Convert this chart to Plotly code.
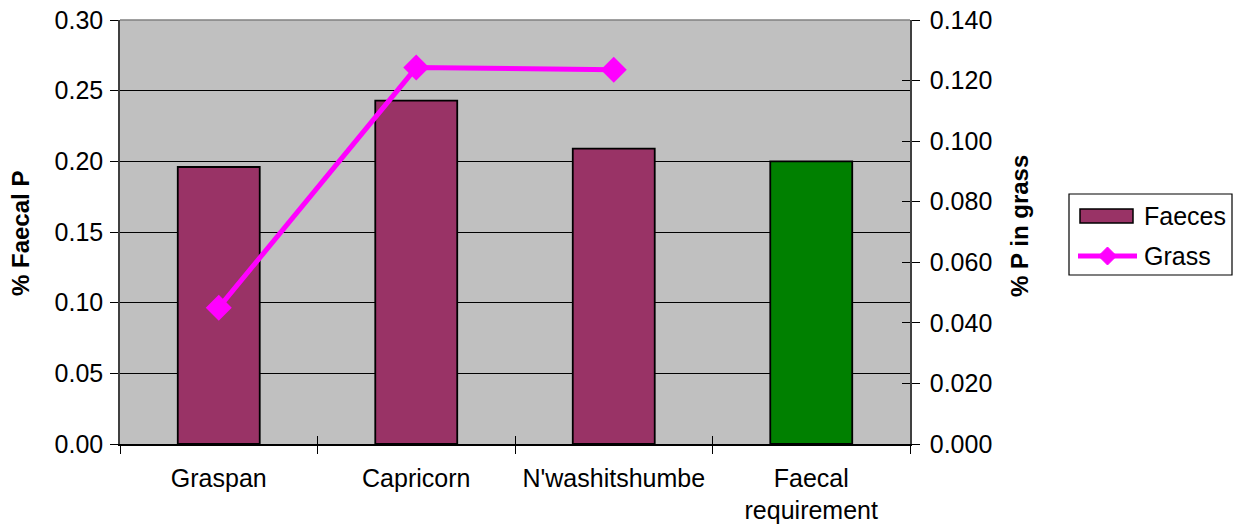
import plotly.graph_objects as go

# Phosphorus data per site
categories = ["Graspan", "Capricorn", "N'washitshumbe", "Faecal<br>requirement"]
faeces_p = [0.196, 0.243, 0.209, 0.200]          # % faecal P (left axis)
grass_p = [0.045, 0.1243, 0.1236, None]          # % P in grass (right axis)
bar_colors = ["#993366", "#993366", "#993366", "#008000"]

left_ticks = [0.00, 0.05, 0.10, 0.15, 0.20, 0.25, 0.30]
right_ticks = [0.000, 0.020, 0.040, 0.060, 0.080, 0.100, 0.120, 0.140]

FONT = "Liberation Sans, Arial, sans-serif"
TICK_SIZE = 25
PURPLE = "#993366"
MAGENTA = "#FF00FF"

# plot area in pixels (for placing the legend box outside it)
L, R, T, B = 120, 910, 20, 444


def px(x):
    return (x - L) / (R - L)


def py(y):
    return (B - y) / (B - T)


fig = go.Figure()

fig.add_trace(go.Bar(
    x=categories, y=faeces_p, name="Faeces",
    marker=dict(color=bar_colors, line=dict(color="black", width=1.8)),
    yaxis="y",
))
fig.add_trace(go.Scatter(
    x=categories, y=grass_p, name="Grass", mode="lines+markers",
    line=dict(color=MAGENTA, width=5),
    marker=dict(symbol="diamond", size=20, color=MAGENTA),
    yaxis="y2", connectgaps=False,
))
# dummy traces anchoring the tick-only overlay axes
fig.add_trace(go.Scatter(x=[None], y=[None], xaxis="x2", yaxis="y", hoverinfo="skip"))
fig.add_trace(go.Scatter(x=[None], y=[None], yaxis="y3", hoverinfo="skip"))

# legend drawn as shapes + text
legend_shapes = [
    dict(type="rect", xref="paper", yref="paper",
         x0=px(1069), x1=px(1232), y0=py(194), y1=py(275),
         fillcolor="white", line=dict(color="black", width=1.2), layer="above"),
    dict(type="rect", xref="paper", yref="paper",
         x0=px(1080), x1=px(1133), y0=py(209), y1=py(223),
         fillcolor=PURPLE, line=dict(color="black", width=1.5), layer="above"),
    dict(type="line", xref="paper", yref="paper",
         x0=px(1078), x1=px(1137), y0=py(256), y1=py(256),
         line=dict(color=MAGENTA, width=5), layer="above"),
    dict(type="path", xref="paper", yref="paper",
         path=(f"M {px(1098.5)},{py(256)} L {px(1107.5)},{py(247)} "
               f"L {px(1116.5)},{py(256)} L {px(1107.5)},{py(265)} Z"),
         fillcolor=MAGENTA, line=dict(color=MAGENTA, width=1), layer="above"),
]

fig.update_layout(
    width=1234, height=527,
    margin=dict(l=L, r=1234 - R, t=T, b=527 - B, autoexpand=False),
    paper_bgcolor="white", plot_bgcolor="#C0C0C0",
    font=dict(family=FONT, size=TICK_SIZE, color="black"),
    bargap=0.585,
    showlegend=False,
    xaxis=dict(
        type="category", range=[-0.5, 3.5], automargin=False,
        showline=True, linecolor="black", linewidth=1.5,
        ticks="outside", ticklen=8, tickcolor="black", tickwidth=1,
        tickson="boundaries", showgrid=False, ticklabelstandoff=11,
        tickfont=dict(family=FONT, size=TICK_SIZE, color="black"),
    ),
    xaxis2=dict(
        overlaying="x", anchor="y", range=[0, 4], automargin=False,
        tickvals=[1, 2, 3], showticklabels=False,
        ticks="inside", ticklen=8, tickcolor="black", tickwidth=1,
        showgrid=False, zeroline=False, showline=False,
    ),
    yaxis=dict(
        range=[0, 0.30], tickvals=left_ticks, automargin=False,
        ticktext=[f"{v:.2f}" for v in left_ticks],
        showline=True, linecolor="#404040", linewidth=1.5,
        ticks="outside", ticklen=8, tickcolor="black",
        showgrid=True, gridcolor="black", gridwidth=1,
        zeroline=False, ticklabelstandoff=2,
        tickfont=dict(family=FONT, size=TICK_SIZE, color="black"),
    ),
    yaxis2=dict(
        overlaying="y", side="right", range=[0, 0.14], automargin=False,
        tickvals=right_ticks, ticktext=[f"{v:.3f}" for v in right_ticks],
        showline=True, linecolor="#404040", linewidth=1.5,
        ticks="outside", ticklen=8, tickcolor="black",
        showgrid=False, zeroline=False, ticklabelstandoff=5,
        tickfont=dict(family=FONT, size=TICK_SIZE, color="black"),
    ),
    yaxis3=dict(
        overlaying="y", side="right", anchor="x", range=[0, 0.14], automargin=False,
        tickvals=right_ticks, showticklabels=False,
        ticks="inside", ticklen=8, tickcolor="black",
        showgrid=False, zeroline=False, showline=False,
    ),
    annotations=[
        dict(text="<b>% Faecal P</b>", textangle=-90, xref="paper", yref="paper",
             x=px(20), y=py(234), xanchor="center", yanchor="middle", showarrow=False,
             font=dict(family=FONT, size=24, color="black")),
        dict(text="<b>% P in grass</b>", textangle=-90, xref="paper", yref="paper",
             x=px(1020), y=py(226), xanchor="center", yanchor="middle", showarrow=False,
             font=dict(family=FONT, size=24, color="black")),
        dict(text="Faeces", xref="paper", yref="paper",
             x=px(1142), y=py(216), xanchor="left", yanchor="middle", showarrow=False,
             font=dict(family=FONT, size=25, color="black")),
        dict(text="Grass", xref="paper", yref="paper",
             x=px(1142), y=py(256), xanchor="left", yanchor="middle", showarrow=False,
             font=dict(family=FONT, size=25, color="black")),
    ],
    shapes=[
        # top border of the plot area
        dict(type="line", xref="paper", yref="paper", x0=0, x1=1, y0=1, y1=1,
             line=dict(color="#808080", width=1.5)),
    ] + legend_shapes,
)

fig.write_html("out.html")
